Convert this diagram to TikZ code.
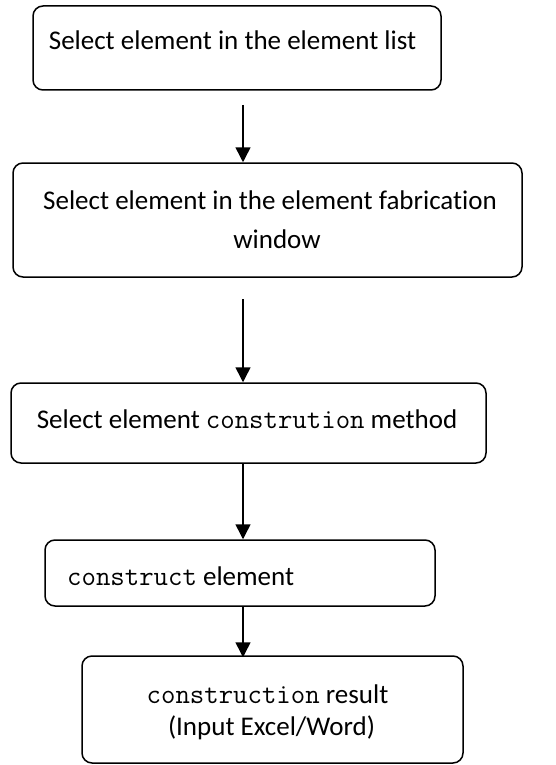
\documentclass[tikz,border=0pt]{standalone}
\usepackage{fontspec}
\setmainfont{Carlito}[Ligatures=CommonOff]
\usetikzlibrary{arrows.meta}
\tikzset{
  box/.style={draw=black, line width=1.5pt, rounded corners=10pt, inner sep=0pt},
  txt/.style={inner sep=0pt, anchor=base, font=\fontsize{27}{32}\selectfont},
  arr/.style={line width=1.5pt, -{Triangle[length=15pt,width=15pt]}},
}
\newcommand{\mono}[1]{{\ttfamily\fontsize{28}{32}\selectfont #1}}
\begin{document}
\begin{tikzpicture}[x=1pt,y=-1pt]
\useasboundingbox (0,0) rectangle (555,765);
\node[box, minimum width=408pt, minimum height=84pt] (b1) at (237,48) {};
\node[box, minimum width=509pt, minimum height=114pt] (b2) at (267.5,220) {};
\node[box, minimum width=475pt, minimum height=80pt] (b3) at (248.5,423) {};
\node[box, minimum width=390pt, minimum height=66pt] (b4) at (240,573) {};
\node[box, minimum width=381pt, minimum height=107pt] (b5) at (272.5,709.5) {};

\node[txt] (t1) at (232.5,50) {Select element in the element list};
\node[txt] (t2a) at (270,209) {Select element in the element fabrication};
\node[txt] (t2b) at (277,248) {window};
\node[txt] (t3) at (247,428) {Select element \mono{constrution} method};
\node[txt, anchor=base west] (t4) at (67,585) {\mono{construct} element};
\node[txt] (t5a) at (267.5,703) {\mono{construction} result};
\node[txt] (t5b) at (271.5,735) {(Input Excel/Word)};

\coordinate (a1) at (243,105);
\coordinate (a2) at (243,299);
\draw[arr] (a1) -- (a1 |- b2.north);
\draw[arr] (a2) -- (a2 |- b3.north);
\draw[arr] (b3.south -| a1) -- (b4.north -| a1);
\draw[arr] (b4.south -| a1) -- ([yshift=-2pt]b5.north -| a1);
\end{tikzpicture}
\end{document}
